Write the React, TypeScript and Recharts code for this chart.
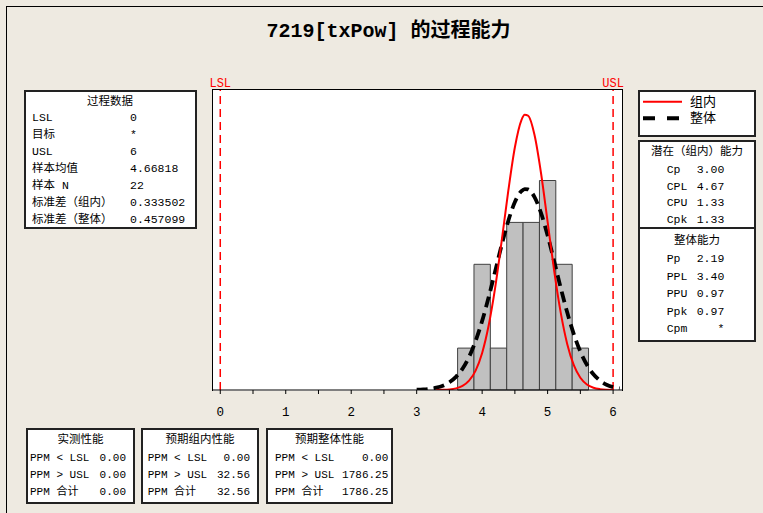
import { ComposedChart, Line, XAxis, YAxis, ReferenceArea, ReferenceLine } from "recharts"

const title = "7219[txPow] 的过程能力"

// histogram: bin edges and counts (N = 22)
const binEdges = [3.625, 3.875, 4.125, 4.375, 4.625, 4.875, 5.125, 5.375, 5.625]
const binCounts = [1, 3, 1, 4, 4, 5, 3, 1]

// fitted curves (counts per bin)
const curveX = [
  3.0, 3.1, 3.2, 3.3, 3.4, 3.5, 3.6, 3.7, 3.8, 3.9, 4.0, 4.1, 4.2, 4.3, 4.4, 4.5, 4.6, 4.65, 4.7,
  4.8, 4.9, 5.0, 5.1, 5.2, 5.3, 5.4, 5.5, 5.6, 5.7, 5.8, 5.9, 6.0, 6.1,
]
const withinFit = [
  null, null, null, 0.002, 0.005, 0.014, 0.039, 0.097, 0.222, 0.464, 0.885, 1.544, 2.455, 3.577,
  4.762, 5.794, 6.443, 6.569, 6.549, 6.085, 5.167, 4.011, 2.845, 1.845, 1.093, 0.592, 0.293, 0.133,
  0.055, 0.021, 0.007, 0.002, null,
]
const overallFit = [
  0.006, 0.013, 0.028, 0.055, 0.102, 0.184, 0.313, 0.509, 0.791, 1.171, 1.65, 2.218, 2.842, 3.471,
  4.041, 4.486, 4.747, 4.796, 4.788, 4.605, 4.221, 3.688, 3.072, 2.439, 1.847, 1.333, 0.916, 0.601,
  0.376, 0.224, 0.127, 0.069, 0.036,
]

const xTicks = [0, 0.5, 1, 1.5, 2, 2.5, 3, 3.5, 4, 4.5, 5, 5.5, 6]
const lsl = 0
const usl = 6

// text panels
const processData = [
  ["LSL", "0"],
  ["目标", "*"],
  ["USL", "6"],
  ["样本均值", "4.66818"],
  ["样本 N", "22"],
  ["标准差（组内）", "0.333502"],
  ["标准差（整体）", "0.457099"],
]
const potential = [
  ["Cp", "3.00"],
  ["CPL", "4.67"],
  ["CPU", "1.33"],
  ["Cpk", "1.33"],
]
const overall = [
  ["Pp", "2.19"],
  ["PPL", "3.40"],
  ["PPU", "0.97"],
  ["Ppk", "0.97"],
  ["Cpm", "*"],
]
const ppmLabels = ["PPM < LSL", "PPM > USL", "PPM 合计"]
const ppmObserved = ["0.00", "0.00", "0.00"]
const ppmWithin = ["0.00", "32.56", "32.56"]
const ppmOverall = ["0.00", "1786.25", "1786.25"]

const curveData = curveX.map((x, i) => ({ x, within: withinFit[i], overall: overallFit[i] }))

const font = '"Liberation Mono", "Noto Sans CJK SC", monospace'

function T({ x, y, children, align = "left", size = 11.5, bold = false, color = "#000" }: any) {
  const tx = align === "center" ? "-50%" : align === "right" ? "-100%" : "0"
  return (
    <div
      style={{
        position: "absolute",
        left: x,
        top: y,
        transform: `translate(${tx}, -50%)`,
        fontSize: size,
        fontWeight: bold ? 700 : 400,
        color,
        whiteSpace: "nowrap",
        lineHeight: 1,
      }}
    >
      {children}
    </div>
  )
}

function Box({ x, y, w, h }: any) {
  return (
    <div
      style={{
        position: "absolute",
        left: x,
        top: y,
        width: w,
        height: h,
        boxSizing: "border-box",
        border: "2px solid #222",
        background: "#fff",
      }}
    />
  )
}

function AxisTick(props: any) {
  const { x, y, payload } = props
  const major = Number.isInteger(payload.value)
  return (
    <g>
      <line x1={x} y1={y} x2={x} y2={y + 4} stroke="#000" />
      {major && (
        <text x={x} y={y + 26} textAnchor="middle" fontSize={12.5} fontFamily={font} fill="#000">
          {payload.value}
        </text>
      )}
    </g>
  )
}

function PpmBox({ x, w, titleText, values, labelX, valueX }: any) {
  return (
    <>
      <Box x={x} y={428} w={w} h={76} />
      <T x={x + w / 2} y={440} align="center">{titleText}</T>
      {ppmLabels.map((l, i) => (
        <T key={l} x={labelX} y={458.3 + i * 16.7} size={11}>{l}</T>
      ))}
      {values.map((v: string, i: number) => (
        <T key={i} x={valueX} y={458.3 + i * 16.7} align="right" size={11}>{v}</T>
      ))}
    </>
  )
}

export default function App() {
  return (
    <div
      style={{
        position: "absolute",
        left: 0,
        top: 0,
        width: 763,
        height: 513,
        overflow: "hidden",
        background: "#EEEAE1",
        fontFamily: font,
      }}
    >
      <div style={{ position: "absolute", left: 6, top: 6, width: 800, height: 600, borderLeft: "1px solid #000", borderTop: "1px solid #000" }} />
      <T x={388.5} y={31.5} align="center" size={20} bold>{title}</T>

      {/* plot frame */}
      <div
        style={{
          position: "absolute",
          left: 212,
          top: 89,
          width: 409,
          height: 301,
          borderLeft: "1px solid #000",
          borderTop: "1px solid #000",
          borderRight: "1px solid #000",
          background: "#fff",
        }}
      />

      <div style={{ position: "absolute", left: 0, top: 0 }}>
        <ComposedChart width={763} height={513} data={curveData} margin={{ top: 90, right: 141, bottom: 92, left: 213 }}>
          <XAxis
            dataKey="x"
            type="number"
            domain={[-0.111, 6.136]}
            allowDataOverflow
            ticks={xTicks}
            interval={0}
            tickSize={0}
            tickMargin={0}
            tickLine={false}
            tick={<AxisTick />}
            axisLine={{ stroke: "#000" }}
            height={31}
          />
          <YAxis hide type="number" domain={[0, 7.16]} allowDataOverflow />
          {binCounts.map((c, i) => (
            <ReferenceArea
              key={i}
              x1={binEdges[i]}
              x2={binEdges[i + 1]}
              y1={0}
              y2={c}
              fill="#C0C0C0"
              fillOpacity={1}
              stroke="#404040"
              strokeWidth={1}
            />
          ))}
          <ReferenceLine
            x={lsl}
            stroke="#ff0000"
            strokeWidth={1.5}
            strokeDasharray="8 5"
            label={{ value: "LSL", position: "top", fill: "#ff0000", fontSize: 12, fontFamily: font, offset: 3 }}
          />
          <ReferenceLine
            x={usl}
            stroke="#ff0000"
            strokeWidth={1.5}
            strokeDasharray="8 5"
            label={{ value: "USL", position: "top", fill: "#ff0000", fontSize: 12, fontFamily: font, offset: 3 }}
          />
          <Line
            dataKey="overall"
            type="monotone"
            stroke="#000"
            strokeWidth={3.8}
            strokeDasharray="11 6"
            dot={false}
            isAnimationActive={false}
          />
          <Line
            dataKey="within"
            type="monotone"
            stroke="#ff0000"
            strokeWidth={2}
            dot={false}
            isAnimationActive={false}
          />
        </ComposedChart>
      </div>

      {/* process data */}
      <Box x={24} y={90} w={173} h={139} />
      <T x={110} y={101.7} align="center">过程数据</T>
      {processData.map(([l, v], i) => (
        <div key={l}>
          <T x={32} y={118.3 + i * 16.95}>{l}</T>
          <T x={130} y={118.3 + i * 16.95}>{v}</T>
        </div>
      ))}

      {/* legend */}
      <Box x={638} y={90} w={118} h={47} />
      <svg style={{ position: "absolute", left: 638, top: 90 }} width={118} height={47}>
        <line x1={5} y1={11.7} x2={44} y2={11.7} stroke="#ff0000" strokeWidth={2} />
        <line x1={5} y1={28.3} x2={44} y2={28.3} stroke="#000" strokeWidth={4} strokeDasharray="12 12" />
      </svg>
      <T x={690} y={101.7} size={13}>组内</T>
      <T x={690} y={118.3} size={13}>整体</T>

      {/* capability */}
      <Box x={638} y={140} w={118} h={202} />
      <div style={{ position: "absolute", left: 638, top: 227, width: 118, height: 1.5, background: "#222" }} />
      <T x={697} y={151.7} align="center">潜在（组内）能力</T>
      {potential.map(([l, v], i) => (
        <div key={l}>
          <T x={666.7} y={170 + i * 16.7}>{l}</T>
          <T x={724.3} y={170 + i * 16.7} align="right">{v}</T>
        </div>
      ))}
      <T x={697} y={241} align="center">整体能力</T>
      {overall.map(([l, v], i) => (
        <div key={l}>
          <T x={666.7} y={259 + i * 17.5}>{l}</T>
          <T x={724.3} y={259 + i * 17.5} align="right">{v}</T>
        </div>
      ))}

      {/* PPM */}
      <PpmBox x={26} w={109} titleText="实测性能" values={ppmObserved} labelX={30} valueX={126} />
      <PpmBox x={141} w={118} titleText="预期组内性能" values={ppmWithin} labelX={147.7} valueX={250} />
      <PpmBox x={266} w={127} titleText="预期整体性能" values={ppmOverall} labelX={275} valueX={388.3} />
    </div>
  )
}
